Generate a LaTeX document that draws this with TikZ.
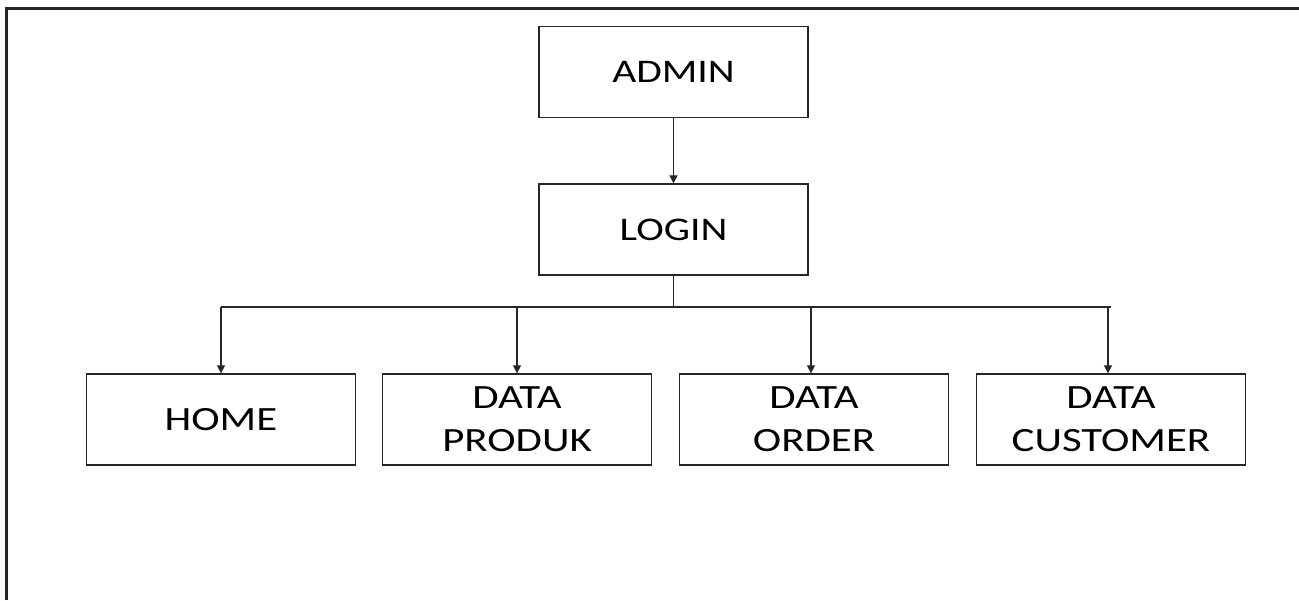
\documentclass[tikz,border=0pt]{standalone}
\usepackage{fontspec}
\setmainfont{Carlito}
\newfontfamily\widefont[FakeStretch=1.26]{Carlito}
\usetikzlibrary{arrows.meta}
\begin{document}
\begin{tikzpicture}[x=1pt,y=-1pt,
  box/.style={draw=black!85,line width=1.3pt,minimum width=269pt,minimum height=91pt,inner sep=0pt,align=center,font=\widefont\fontsize{34}{43}\selectfont},
  topbox/.style={box,font=\widefont\fontsize{33}{40}\selectfont},
  conn/.style={draw=black!85,line width=1.2pt},
  arr/.style={conn,-{Triangle[length=8pt,width=8pt]}}]
\useasboundingbox (0,0) rectangle (1299,600);
\draw[line width=3pt,black!85] (6.5,600) -- (6.5,8.5) -- (1299,8.5);
\node[topbox] (admin) at (673.5,72) {ADMIN};
\node[topbox] (login) at (673.5,229.5) {LOGIN};
\node[box] (home) at (221,419.5) {HOME};
\node[box] (produk) at (517,419.5) {DATA\\PRODUK};
\node[box] (order) at (814,419.5) {DATA\\ORDER};
\node[box] (cust) at (1111,419.5) {DATA\\CUSTOMER};
\coordinate (j) at (673.5,307);
\coordinate (hl) at (221,307);
\coordinate (hr) at (1111,307);
\draw[arr] (admin) -- (login);
\draw[conn] (login) -- (j);
\draw[conn] (hl) -- (hr);
\draw[arr] (hl) -- (home);
\draw[arr] (produk.north |- j) -- (produk);
\draw[arr] ([xshift=-3pt]order.north |- j) -- ([xshift=-3pt]order.north);
\draw[arr] ([xshift=-3pt]cust.north |- j) -- ([xshift=-3pt]cust.north);
\end{tikzpicture}
\end{document}
